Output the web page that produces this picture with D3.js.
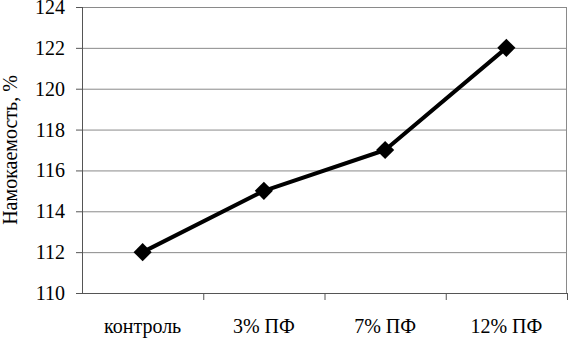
<!DOCTYPE html>
<html><head><meta charset="utf-8">
<script src="https://cdn.jsdelivr.net/npm/d3@7/dist/d3.min.js"></script>
</head><body style="margin:0;background:#fff">
<svg id="c" width="568" height="341"></svg>
<script>
const categories = ["контроль", "3% ПФ", "7% ПФ", "12% ПФ"];
const values = [112, 115, 117, 122];
const yTicks = [110, 112, 114, 116, 118, 120, 122, 124];
const yLabel = "Намокаемость, %";

const svg = d3.select("#c");
const m = {left: 82, right: 1, top: 7, bottom: 48};
const W = 568, H = 341;
const x = d3.scaleBand().domain(categories).range([m.left, W - m.right]);
const y = d3.scaleLinear().domain([110, 124]).range([H - m.bottom, m.top]);

svg.append("g").selectAll("line").data(yTicks.slice(1)).join("line")
  .attr("x1", m.left).attr("x2", W - m.right)
  .attr("y1", d => y(d) + 0.5).attr("y2", d => y(d) + 0.5)
  .attr("stroke", "#8a8a8a");
svg.append("line").attr("x1", W - m.right - 0.5).attr("x2", W - m.right - 0.5)
  .attr("y1", m.top).attr("y2", H - m.bottom).attr("stroke", "#8a8a8a");

// y axis line and ticks
svg.append("line").attr("x1", m.left + 0.5).attr("x2", m.left + 0.5)
  .attr("y1", y(124)).attr("y2", y(110)).attr("stroke", "#555");
svg.append("g").selectAll("line").data(yTicks).join("line")
  .attr("x1", m.left - 6).attr("x2", m.left)
  .attr("y1", d => y(d) + 0.5).attr("y2", d => y(d) + 0.5).attr("stroke", "#555");
svg.append("g").selectAll("text").data(yTicks).join("text")
  .attr("x", m.left - 17).attr("y", d => y(d) + 7)
  .attr("text-anchor", "end")
  .style("font-family", '"Liberation Serif"').attr("font-size", 20)
  .text(d => d);

// x axis
svg.append("line").attr("x1", m.left).attr("x2", W - m.right)
  .attr("y1", H - m.bottom + 0.5).attr("y2", H - m.bottom + 0.5).attr("stroke", "#555");
svg.append("g").selectAll("line").data(categories).join("line")
  .attr("x1", d => x(d) + x.bandwidth() + 0.5).attr("x2", d => x(d) + x.bandwidth() + 0.5)
  .attr("y1", H - m.bottom).attr("y2", H - m.bottom + 7).attr("stroke", "#555");
svg.append("g").selectAll("text").data(categories).join("text")
  .attr("x", d => x(d) + x.bandwidth() / 2).attr("y", H - 8)
  .attr("text-anchor", "middle")
  .style("font-family", '"Liberation Serif"').attr("font-size", 20)
  .text(d => d);

svg.append("text").attr("transform", `translate(17,${(m.top + H - m.bottom) / 2}) rotate(-90)`)
  .attr("text-anchor", "middle")
  .style("font-family", '"Liberation Serif"').attr("font-size", 20)
  .text(yLabel);

const pts = categories.map((c, i) => [x(c) + x.bandwidth() / 2, y(values[i])]);
svg.append("path").attr("d", d3.line()(pts)).attr("fill", "none")
  .attr("stroke", "#000").attr("stroke-width", 4).attr("stroke-linejoin", "round");
svg.append("g").selectAll("path").data(pts).join("path")
  .attr("d", d3.symbol(d3.symbolSquare, 165)())
  .attr("transform", d => `translate(${d[0]},${d[1]}) rotate(45)`)
  .attr("fill", "#000");
</script></body></html>
